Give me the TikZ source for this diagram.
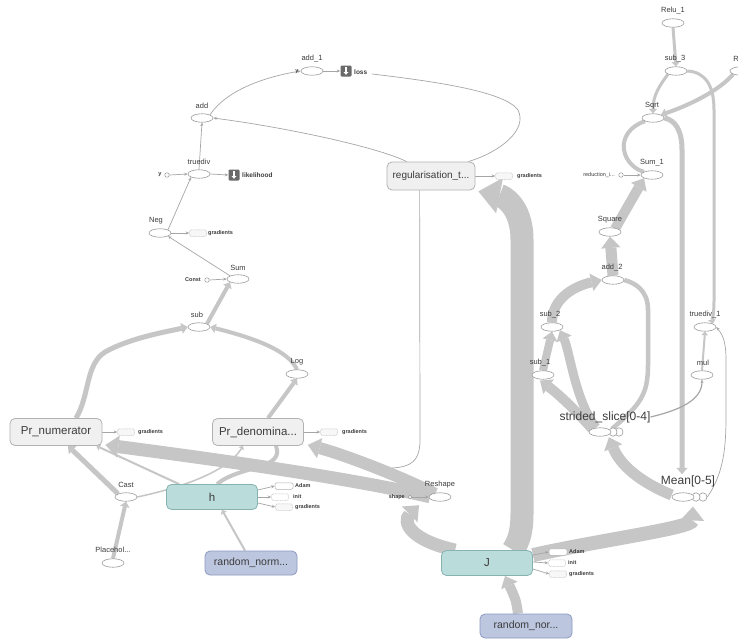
\documentclass[tikz,border=0pt]{standalone}
\usepackage{fontspec}
\setmainfont{Liberation Sans}
\usetikzlibrary{shapes.geometric,arrows.meta,calc}
\definecolor{bandc}{HTML}{C6C6C6}
\definecolor{edgec}{HTML}{A6A6A6}
\definecolor{opb}{HTML}{9A9A9A}
\definecolor{txt}{HTML}{3C3C3C}
\definecolor{metaf}{HTML}{F0F0F0}
\definecolor{metab}{HTML}{B2B2B2}
\definecolor{tealf}{HTML}{BADCDB}
\definecolor{tealb}{HTML}{86B3B2}
\definecolor{lavf}{HTML}{BCC6DF}
\definecolor{lavb}{HTML}{8E9BC2}
\definecolor{iconc}{HTML}{6A6A6A}
\pgfdeclarelayer{bg}
\pgfdeclarelayer{paper}
\pgfsetlayers{paper,bg,main}
\tikzset{
 op/.style={ellipse, draw=opb, fill=white, line width=0.6pt, minimum width=22pt, minimum height=8.5pt, inner sep=0pt},
 sop/.style={ellipse, draw=opb, fill=white, line width=0.6pt, minimum width=8pt, minimum height=8.5pt, inner sep=0pt},
 oplab/.style={font=\fontsize{7.5}{8}\selectfont, text=txt, inner sep=0pt},
 serlab/.style={font=\fontsize{12}{12}\selectfont, text=txt, inner sep=0pt},
 meta/.style={rectangle, rounded corners=5pt, draw=metab, fill=metaf, line width=0.8pt, minimum width=92pt, minimum height=27pt, inner sep=0pt, font=\fontsize{11.5}{12}\selectfont, text=txt},
 tealbox/.style={meta, draw=tealb, fill=tealf, minimum width=91pt, minimum height=25pt},
 lavbox/.style={meta, draw=lavb, fill=lavf, minimum height=24pt, font=\fontsize{10.5}{11}\selectfont},
 tiny/.style={font=\fontsize{5.5}{6}\selectfont\bfseries, text=txt, inner sep=0pt},
 gbox/.style={rectangle, rounded corners=1.5pt, draw=gray!45, dash pattern=on 1pt off 0.6pt, fill=gray!6, line width=0.5pt, minimum width=17pt, minimum height=6.5pt, inner sep=0pt},
 abox/.style={rectangle, rounded corners=1.5pt, draw=gray!60, fill=white, line width=0.5pt, minimum width=18pt, minimum height=6.5pt, inner sep=0pt},
 ibox/.style={gbox, fill=white},
 circ/.style={circle, draw=opb, fill=white, line width=0.5pt, minimum size=4.5pt, inner sep=0pt},
 sumicon/.style={rectangle, rounded corners=1.2pt, fill=iconc, minimum size=11pt, inner sep=0pt},
 iconlab/.style={font=\fontsize{6.5}{7}\selectfont\bfseries, text=txt, inner sep=0pt},
 thinarr/.style={draw=edgec, line width=0.7pt, -{Stealth[length=3.5pt,width=3pt]}},
 thinline/.style={draw=edgec, line width=0.7pt},
 band/.code={%
   \pgfmathsetmacro\bandl{0.85*#1+2}\pgfmathsetmacro\bandw{1.4*#1+4}%
   \edef\bandtmp{\noexpand\tikzset{line width=#1pt, draw=bandc, -{Triangle[length=\bandl pt, width=\bandw pt, line width=0pt]}}}\bandtmp},
 bandnt/.style={draw=bandc, line width=#1}
}
\begin{document}
\begin{tikzpicture}[x=1pt,y=-1pt]
\useasboundingbox (0,0) rectangle (738,642);
\begin{pgfonlayer}{paper}
\fill[white] (0,0) rectangle (738,642);
\end{pgfonlayer}

% ---------- left column ----------
\node[op] (add1) at (312,71) {};
\node[oplab] (add1l) at (312,59) {add\_1};
\node[tiny] (add1y) at (297,72) {y};
\node[sumicon] (lossic) at (346,71) {};
\node[iconlab, anchor=west] (losst) at (354,72) {loss};
\coordinate (lossend) at (372,74);

\node[op] (add) at (202,118) {};
\node[oplab] (addl) at (202,106) {add};

\node[op] (truediv) at (199,174) {};
\node[oplab] (truedivl) at (199,162) {truediv};
\node[tiny] (ty) at (160,175) {y};
\node[circ] (tyc) at (167,175) {};
\node[sumicon] (likic) at (234,175) {};
\node[iconlab, anchor=west] (likt) at (242,175) {likelihood};

\node[op] (neg) at (160,233) {};
\node[oplab] (negl) at (156,221) {Neg};
\node[gbox] (neggb) at (198,233) {};
\node[tiny, anchor=west] (neggt) at (208,233) {gradients};

\node[op] (sum) at (238,279) {};
\node[oplab] (suml) at (238,268) {Sum};
\node[tiny, anchor=east] (constt) at (201,280) {Const};
\node[circ] (constc) at (207,280) {};

\node[op] (sub) at (199,327) {};
\node[oplab] (subl) at (197,315) {sub};

\node[op] (log) at (297,374) {};
\node[oplab] (logl) at (297,362) {Log};

\node[meta] (prnum) at (56,432) {Pr\_numerator};
\node[gbox] (prnumgb) at (126,432) {};
\node[tiny, anchor=west] (prnumgt) at (138,432) {gradients};

\node[meta, minimum width=91pt] (prden) at (258,432) {Pr\_denomina...};
\node[gbox] (prdengb) at (329,432) {};
\node[tiny, anchor=west] (prdengt) at (342,432) {gradients};

\node[meta, minimum width=88pt, minimum height=28pt, font=\fontsize{10}{10}\selectfont] (reg) at (431,176) {regularisation\_t...};
\node[gbox] (reggb) at (504,176) {};
\node[tiny, anchor=west] (reggt) at (517,176) {gradients};

\node[op] (cast) at (126,497) {};
\node[oplab] (castl) at (126,485) {Cast};
\node[op] (ph) at (113,563) {};
\node[oplab] (phl) at (113,550) {Placehol...};

\node[tealbox] (h) at (212,497) {h};
\node[abox] (hadam) at (284,486) {};
\node[tiny, anchor=west] (hadamt) at (295,486) {Adam};
\node[ibox] (hinit) at (280,497) {};
\node[tiny, anchor=west] (hinitt) at (293,497) {init};
\node[gbox] (hgrad) at (284,507) {};
\node[tiny, anchor=west] (hgradt) at (295,507) {gradients};

\node[lavbox] (rn1) at (251,563) {random\_norm...};

\node[op] (reshape) at (440,497) {};
\node[oplab] (reshapel) at (440,485) {Reshape};
\node[tiny, anchor=east] (shapet) at (405,497) {shape};
\node[circ, minimum size=3.5pt] (shapec) at (410,497) {};

\node[tealbox] (j) at (487,563) {J};
\node[abox] (jadam) at (558,552) {};
\node[tiny, anchor=west] (jadamt) at (569,552) {Adam};
\node[ibox] (jinit) at (557,563) {};
\node[tiny, anchor=west] (jinitt) at (568,563) {init};
\node[gbox] (jgrad) at (558,574) {};
\node[tiny, anchor=west] (jgradt) at (569,574) {gradients};

\node[lavbox] (rn2) at (526,626) {random\_nor...};

% ---------- right side ----------
\node[op] (relu1) at (673,23) {};
\node[oplab] (relu1l) at (673,11) {Relu\_1};
\node[op] (sub3) at (676,71) {};
\node[oplab] (sub3l) at (675,59) {sub\_3};
\node[op] (relu) at (741,71) {};
\node[oplab] (relul) at (741,59) {Relu};
\node[op] (sqrt) at (653,118) {};
\node[oplab] (sqrtl) at (652,106) {Sqrt};
\node[op] (sum1) at (652,175) {};
\node[oplab] (sum1l) at (652,163) {Sum\_1};
\node[tiny, anchor=east, font=\fontsize{5.5}{6}\selectfont] (redt) at (615,175) {reduction\_i...};
\node[circ] (redc) at (621,175) {};
\node[op] (square) at (610,232) {};
\node[oplab] (squarel) at (610,220) {Square};
\node[op] (add2) at (613,280) {};
\node[oplab] (add2l) at (612,268) {add\_2};
\node[op] (sub2) at (552,327) {};
\node[oplab] (sub2l) at (550,315) {sub\_2};
\node[op] (sub1) at (543,375) {};
\node[oplab] (sub1l) at (540,363) {sub\_1};
\node[sop] (ss3) at (619,432) {};
\node[sop] (ss2) at (613,432) {};
\node[op] (ss) at (600,432) {};
\node[serlab] (ssl) at (605,417) {strided\_slice[0-4]};
\node[sop] (mean3) at (703,497) {};
\node[sop] (mean2) at (696,497) {};
\node[op] (mean) at (683,497) {};
\node[serlab] (meanl) at (688,481) {Mean[0-5]};
\node[op] (td1) at (705,327) {};
\node[oplab] (td1l) at (705,315) {truediv\_1};
\node[op] (mul) at (702,375) {};
\node[oplab] (mull) at (703,363) {mul};

% summary icon glyphs
\foreach \ic in {lossic, likic}{
  \draw[white, line width=1.4pt, -{Triangle[length=2.8pt, width=5pt, line width=0pt]}] ($(\ic.center)+(0,-4)$) -- ($(\ic.center)+(0,3.8)$);
}

\begin{pgfonlayer}{bg}
% big bands
\draw[band=13] ($(reshape.north west)+(-2,3)$) .. controls (350,478) and (220,460) .. ($(prnum.south east)+(3,-1)$);
\draw[band=12] ($(reshape.north west)+(3,0)$) .. controls (400,476) and (345,455) .. ($(prden.south east)+(4,-1)$);
\draw[band=13] ($(j.north west)+(14,0)$) .. controls (410,540) and (402,522) .. ($(reshape.south west)+(-13,5)$);
\draw[band=23] ($(j.north)+(26,0)$) .. controls (523,535) and (522,520) .. (522,500) -- (522,240) .. controls (522,205) and (502,196) .. ($(reg.south east)+(3,1)$);
\draw[band=14] ($(j.north east)+(0,5)$) .. controls (600,540) and (692,528) .. ($(mean.south)+(10,5)$);
\draw[band=10] ($(rn2.north)+(-8,0)$) .. controls (516,600) .. ($(j.south)+(18,0)$);

% right-side bands
\draw[band=10] ($(square.north east)+(-3,0)$) -- (sum1.south west);
\draw[band=11] (add2.north) -- (square.south);
\draw[band=10] (sub2.north) .. controls (552,298) and (575,286) .. (add2.west);
\draw[band=8] (sub1.north) -- (sub2.south);
\draw[band=9] ($(ss.north)+(-4,0)$) .. controls (575,400) and (570,352) .. (sub2.south east);
\draw[band=10] (ss.north west) .. controls (580,415) and (560,395) .. ($(sub1.south)+(-3,1)$);
\draw[bandnt=4.5] ($(ss.north east)+(4,0)$) .. controls (640,405) and (648,395) .. (648,365) -- (648,310) .. controls (648,290) and (635,283) .. (add2.east);
\draw[band=11] ($(mean.west)+(0,-2)$) .. controls (640,482) and (620,465) .. ($(ss.south east)+(1,2)$);
\draw[band=5] (sqrt.east) .. controls (675,120) and (682,130) .. (682,150) -- ($(meanl.north)+(-6,-1)$);
\draw[band=3] (sub3.east) .. controls (705,72) and (714,85) .. (714,110) -- (714,300) .. controls (714,316) and (712,320) .. (td1.north east);
\draw[band=3] (relu1.south) -- (sub3.north);
\draw[band=3] (sub3.south west) .. controls (660,85) and (653,95) .. (sqrt.north);
\draw[band=4] (relu.south west) .. controls (720,90) and (690,105) .. (sqrt.north east);
\draw[bandnt=4] (sqrt.south west) .. controls (630,126) and (622,138) .. (624,150) .. controls (626,162) and (636,170) .. (sum1.north west);
\draw[thinarr] (mean3.east) .. controls (726,470) and (726,440) .. (726,410) -- (726,360) .. controls (726,340) and (722,334) .. (td1.east);
\draw[band=2] (mul.north) -- (td1.south);
\draw[thinarr, line width=1.2pt] (ssl.east) .. controls (680,410) and (702,400) .. (mul.south);

% left bands
\draw[band=5] ($(prnum.north)+(20,0)$) .. controls (90,395) and (85,365) .. (105,352) .. controls (130,338) and (165,332) .. (sub.west);
\draw[band=4] (log.north) .. controls (290,355) and (270,342) .. (sub.east);
\draw[band=4] (sub.north east) -- (sum.south west);
\draw[band=4] ($(prden.north)+(10,0)$) -- (log.south);
\draw[band=5] (cast.north west) -- ($(prnum.south)+(12,0)$);
\draw[band=4] (ph.north) -- (cast.south);
\draw[band=1.5] (cast.east) .. controls (170,490) and (225,475) .. ($(prden.south)+(-15,0)$);
\draw[band=2] ($(h.north west)+(13,0)$) -- ($(prnum.south east)+(-6,0)$);
\draw[bandnt=4] ($(h.north)+(5,0)$) .. controls (240,465) and (285,470) .. ($(prden.south)+(18,0)$);
\draw[band=2] ($(rn1.north)+(-6,0)$) -- ($(h.south)+(10,0)$);
\coordinate (regfree) at (392,468);
\draw[thinline] ($(reg.south west)+(33,0)$) -- (420,440) .. controls (420,462) and (410,467) .. (regfree);

% thin edges
\draw[thinarr] (add.north east) .. controls (228,88) and (270,76) .. (add1.west);
\draw[thinarr] ($(reg.north west)+(20,0)$) .. controls (380,148) and (290,128) .. (add.east);
\draw[thinline] ($(reg.north east)+(-7,0)$) .. controls (500,152) and (528,130) .. (518,110) .. controls (505,92) and (440,82) .. (lossend);
\draw[thinarr] (truediv.north) -- (add.south);
\draw[thinarr] (neg.north east) -- (truediv.south west);
\draw[thinarr] (sum.north west) -- (neg.south east);
\draw[thinarr] (tyc.east) -- (truediv.west);
\draw[thinarr] (truediv.east) -- (likic.west);
\draw[thinarr] (neg.east) -- (neggb.west);
\draw[thinarr] (constc.east) -- (sum.west);
\draw[thinarr] (add1.east) -- (lossic.west);
\draw[thinarr] (reg.east) -- (reggb.west);
\draw[thinarr] (prnum.east) -- (prnumgb.west);
\draw[thinarr] (prden.east) -- (prdengb.west);
\draw[thinarr] ($(h.east)+(0,-7)$) -- (hadam.west);
\draw[thinarr] (h.east) -- (hinit.west);
\draw[thinarr] ($(h.east)+(0,6)$) -- (hgrad.west);
\draw[thinarr] ($(j.east)+(0,-8)$) -- (jadam.west);
\draw[thinarr] ($(j.east)+(0,-1)$) -- (jinit.west);
\draw[thinarr] ($(j.east)+(0,6)$) -- (jgrad.west);
\draw[thinarr] (redc.east) -- (sum1.west);
\draw[thinarr] (shapec.east) -- (reshape.west);
\end{pgfonlayer}
\end{tikzpicture}
\end{document}
